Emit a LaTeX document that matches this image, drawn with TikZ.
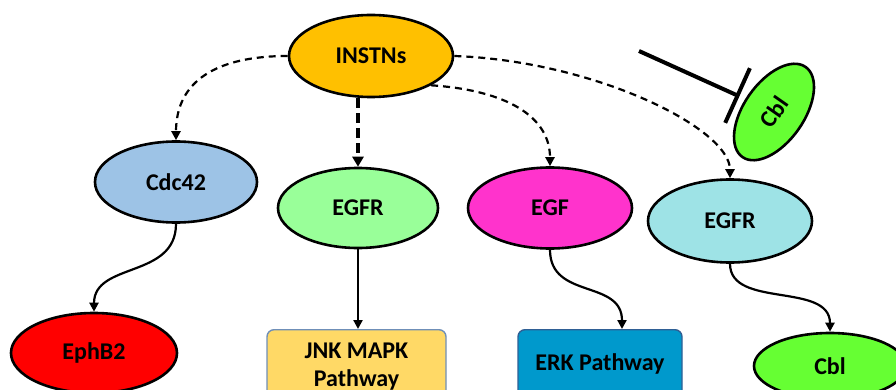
\documentclass[tikz,border=0pt]{standalone}
\usepackage{fontspec}
\setmainfont{Carlito}
\usetikzlibrary{shapes.geometric,arrows.meta}
\definecolor{cInst}{HTML}{FFC000}
\definecolor{cCdc}{HTML}{9DC3E6}
\definecolor{cEgfrA}{HTML}{99FF99}
\definecolor{cEgf}{HTML}{FF33CC}
\definecolor{cEgfrB}{HTML}{9EE3E6}
\definecolor{cCbl}{HTML}{66FF33}
\definecolor{cEph}{HTML}{FF0000}
\definecolor{cJnk}{HTML}{FFD966}
\definecolor{cErk}{HTML}{0099CC}
\definecolor{cJnkB}{HTML}{6F8FB8}
\definecolor{cErkB}{HTML}{2F5F95}
\tikzset{
  ell/.style={ellipse, draw=black, line width=2.6pt, inner sep=0pt,
    font=\fontsize{24}{28}\selectfont\bfseries},
  pbox/.style={rectangle, rounded corners=7pt, line width=1.4pt, inner sep=0pt,
    align=center, font=\fontsize{24}{28}\selectfont\bfseries},
  dasharrow/.style={line width=2.2pt, dash pattern=on 7pt off 5pt,
    -{Triangle[length=9pt,width=9pt]}},
  thickdash/.style={line width=4pt, dash pattern=on 10pt off 5pt,
    -{Triangle[length=10pt,width=11pt]}},
  solidarrow/.style={line width=2.2pt, -{Triangle[length=9pt,width=9pt]}},
  inhib/.style={line width=4pt, -{Bar[width=60pt,line width=4pt]}}
}
\begin{document}
\begin{tikzpicture}[x=1pt,y=-1pt]
\clip (0,0) rectangle (896,390);
\fill[white] (0,0) rectangle (896,390);
% nodes
\node[ell, fill=cInst, minimum width=164pt, minimum height=82pt] (insn) at (371,56) {INSTNs};
\node[ell, fill=cCdc, minimum width=162pt, minimum height=81pt] (cdc) at (176,182) {Cdc42};
\node[ell, fill=cEgfrA, minimum width=160pt, minimum height=80pt] (egfra) at (358,208) {EGFR};
\node[ell, fill=cEgf, minimum width=164pt, minimum height=81pt] (egf) at (550,208) {EGF};
\node[ell, fill=cEgfrB, minimum width=164pt, minimum height=83pt] (egfrb) at (730,221) {EGFR};
\node[ell, fill=cCbl, minimum width=110pt, minimum height=60pt, rotate=55] (cblr) at (774,112) {Cbl};
\node[ell, fill=cEph, minimum width=166pt, minimum height=80pt] (eph) at (94,353) {EphB2};
\node[pbox, fill=cJnk, draw=cJnkB, minimum width=179pt, minimum height=74pt, anchor=north] (jnk) at (356.5,329) {JNK MAPK\\Pathway};
\node[pbox, fill=cErk, draw=cErkB, minimum width=164pt, minimum height=68pt, anchor=north] (erk) at (600,329) {ERK Pathway};
\node[ell, fill=cCbl, minimum width=152pt, minimum height=66pt] (cbl) at (830,366) {Cbl};
\coordinate (inhstart) at (639,51);
% connectors
\draw[dasharrow] (insn.west) .. controls +(-70,0) and +(0,-60) .. (cdc.north);
\draw[thickdash] (egfra.north |- insn.south) -- (egfra.north);
\draw[dasharrow] (insn.-26) .. controls +(75,5) and +(0,-50) .. (egf.north);
\draw[dasharrow] (insn.east) .. controls +(140,5) and +(0,-50) .. (egfrb.north);
\draw[solidarrow] (cdc.south) .. controls +(0,55) and +(0,-50) .. (eph.north);
\draw[solidarrow] (egfra.south) -- (egfra.south |- jnk.north);
\draw[solidarrow] (egf.south) .. controls +(0,50) and +(0,-50) .. (erk.north -| 622,0);
\draw[solidarrow] (egfrb.south) .. controls +(0,45) and +(0,-50) .. (cbl.north);
\draw[inhib, shorten >=38pt] (inhstart) -- (cblr.center);
\end{tikzpicture}
\end{document}
